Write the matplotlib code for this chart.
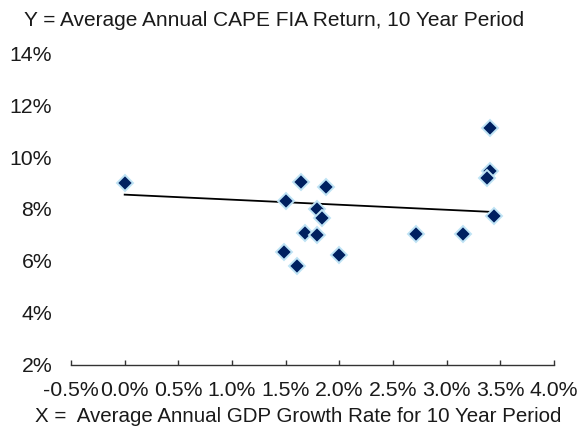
import numpy as np
import matplotlib
matplotlib.use("Agg")
import matplotlib.pyplot as plt
from matplotlib.ticker import FuncFormatter, MultipleLocator

plt.rcParams['font.family'] = ['Liberation Sans', 'DejaVu Sans']

# GDP growth (%) vs CAPE FIA return (%), 10 year periods
gdp_growth = [0.00, 1.64, 1.88, 1.50, 1.79, 1.84, 1.68, 1.79, 1.48, 2.00, 1.61,
              3.40, 3.40, 3.38, 3.44, 2.71, 3.15]
fia_return = [9.01, 9.03, 8.83, 8.32, 8.00, 7.64, 7.06, 6.99, 6.34, 6.21, 5.81,
              11.13, 9.46, 9.20, 7.72, 7.03, 7.04]

# trendline as drawn in the source chart
trend_x = [0.00, 3.44]
trend_y = [8.55, 7.88]

title = "Y = Average Annual CAPE FIA Return, 10 Year Period"
xlabel = "X =  Average Annual GDP Growth Rate for 10 Year Period"

fig = plt.figure(figsize=(5.8, 4.28), dpi=100)
ax = fig.add_axes([71 / 580, 1 - 364.5 / 428, (554 - 71) / 580, (364.5 - 53.3) / 428])

ax.plot(trend_x, trend_y, color='black', lw=1.3, zorder=2)

ax.plot(gdp_growth, fia_return, linestyle='none', marker='D', ms=7.8, mfc='#002060',
        mec='#BFE3F5', mew=1.4, zorder=3)

ax.set_xlim(-0.5, 4.0)
ax.set_ylim(2, 14)
ax.xaxis.set_major_locator(MultipleLocator(0.5))
ax.yaxis.set_major_locator(MultipleLocator(2))
ax.xaxis.set_major_formatter(FuncFormatter(lambda v, p: f"{v:.1f}%"))
ax.yaxis.set_major_formatter(FuncFormatter(lambda v, p: f"{v:.0f}%"))

for s in ['top', 'right', 'left']:
    ax.spines[s].set_visible(False)
ax.spines['bottom'].set_color('#333333')
ax.spines['bottom'].set_linewidth(1.0)

ax.tick_params(axis='x', direction='in', length=3.5, width=1.0, color='#333333',
               labelsize=15.3, pad=12, labelcolor='#1a1a1a')
ax.tick_params(axis='y', length=0, labelsize=15.3, pad=13.5, labelcolor='#1a1a1a')

fig.text(24 / 580, 1 - 20 / 428, title, fontsize=15, color='#1a1a1a',
         ha='left', va='center')
fig.text(35 / 580, 1 - 416 / 428, xlabel, fontsize=14.8, color='#1a1a1a',
         ha='left', va='center')

fig.savefig("out.png", dpi=100)
